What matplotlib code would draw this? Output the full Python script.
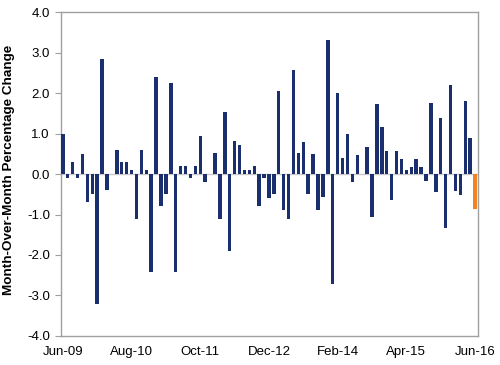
import matplotlib
matplotlib.use("Agg")
import matplotlib.pyplot as plt
import numpy as np

values = [1.0, -0.1, 0.3, -0.1, 0.5, -0.7, -0.5, -3.22, 2.83, -0.4,
          0.0, 0.6, 0.3, 0.3, 0.1, -1.1, 0.6, 0.1, -2.41, 2.4,
          -0.8, -0.5, 2.25, -2.41, 0.2, 0.2, -0.1, 0.2, 0.93, -0.2,
          0.0, 0.51, -1.1, 1.54, -1.9, 0.82, 0.72, 0.1, 0.1, 0.2,
          -0.8, -0.1, -0.6, -0.5, 2.06, -0.9, -1.12, 2.57, 0.51, 0.8,
          -0.5, 0.5, -0.88, -0.58, 3.32, -2.71, 2.0, 0.4, 0.99, -0.19,
          0.48, 0.0, 0.67, -1.05, 1.74, 1.15, 0.57, -0.65, 0.57, 0.38,
          0.1, 0.18, 0.38, 0.18, -0.17, 1.76, -0.45, 1.38, -1.34, 2.2,
          -0.43, -0.53, 1.81, 0.89, -0.86]
tick_labels = ["Jun-09", "Aug-10", "Oct-11", "Dec-12", "Feb-14", "Apr-15", "Jun-16"]
tick_months = [0, 14, 28, 42, 56, 70, 84]
y_ticks = [-4, -3, -2, -1, 0, 1, 2, 3, 4]

plt.rcParams['font.family'] = ['Liberation Sans', 'DejaVu Sans']

fig = plt.figure(figsize=(5, 3.65), dpi=100)
ax = fig.add_axes([0.122, 0.0795, 0.834, 0.8875])

x = np.arange(len(values))
colors = ['#1B2F6E'] * (len(values) - 1) + ['#F5821F']
ax.bar(x, values, width=0.7, color=colors, zorder=3)
ax.axhline(0, color='#C8C8C8', lw=1.0, zorder=2)

ax.set_xlim(-0.38, len(values) - 1 + 0.6)
ax.set_ylim(-4, 4)
ax.set_yticks(y_ticks)
ax.set_yticklabels([f"{v:.1f}" for v in y_ticks], fontsize=9.5)
ax.set_xticks(tick_months)
ax.set_xticklabels(tick_labels, fontsize=9.5)
ax.tick_params(axis='x', length=0, pad=7.5)
ax.tick_params(axis='y', length=4, color='#A0A0A0', pad=4)
for s in ax.spines.values():
    s.set_color('#A0A0A0')
    s.set_linewidth(1.0)
fig.text(9.5 / 500, 1 - 170 / 365, "Month-Over-Month Percentage Change",
         rotation=90, ha='center', va='center', fontsize=9.7, fontweight='bold')

fig.savefig("out.png", dpi=100)
